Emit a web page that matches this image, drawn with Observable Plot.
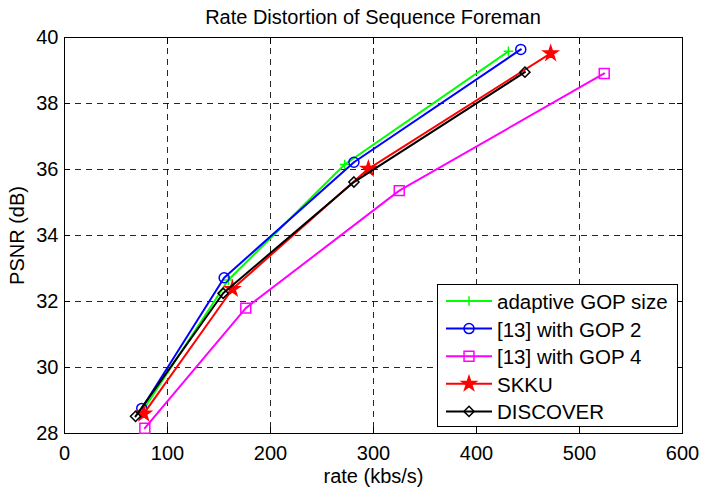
<!DOCTYPE html>
<html><head><meta charset="utf-8">
<script src="https://cdn.jsdelivr.net/npm/d3@7"></script>
<script src="https://cdn.jsdelivr.net/npm/@observablehq/plot@0.6"></script>
<style>
body{margin:0;background:#fff;font-family:"Liberation Sans",Arial,Helvetica,sans-serif;}
#wrap{position:relative;width:703px;height:487px;background:#fff;}
#title{height:30px;line-height:34px;font-size:20px;text-align:center;padding-left:64px;padding-right:21px;box-sizing:border-box;width:703px;color:#000;white-space:nowrap;}
#legend{position:absolute;left:437px;top:284px;}
</style></head><body>
<div id="wrap"><div id="title">Rate Distortion of Sequence Foreman</div><div id="chart"></div><svg id="legend" width="241" height="143"></svg></div>
<script>
const seriesNames = ["adaptive GOP size", "[13] with GOP 2", "[13] with GOP 4", "SKKU", "DISCOVER"];
const rateAdaptive = [76, 159, 272, 431];
const psnrAdaptive = [28.70, 32.65, 36.15, 39.58];
const rateGop2 = [75, 155, 281, 443];
const psnrGop2 = [28.76, 32.72, 36.22, 39.64];
const rateGop4 = [78, 176, 325, 524];
const psnrGop4 = [28.16, 31.80, 35.36, 38.91];
const rateSkku = [77, 163, 295, 472];
const psnrSkku = [28.60, 32.38, 36.02, 39.52];
const rateDiscover = [69, 154, 281, 447];
const psnrDiscover = [28.52, 32.25, 35.62, 38.95];
const xTicks = [0, 100, 200, 300, 400, 500, 600];
const yTicks = [28, 30, 32, 34, 36, 38, 40];

const seriesColors = ["#00ff00", "#0000ff", "#ff00ff", "#ff0000", "#000000"];
const seriesSymbols = ["plus", "circle", "square", "star", "diamond2"];
const seriesR = [3.2, 5, 5.6, 4.5, 4.6];
const seriesFill = ["none", "none", "none", "#ff0000", "none"];

const rates = [rateAdaptive, rateGop2, rateGop4, rateSkku, rateDiscover];
const psnrs = [psnrAdaptive, psnrGop2, psnrGop4, psnrSkku, psnrDiscover];
const tables = seriesNames.map((name, i) => rates[i].map((r, j) => ({series: name, rate: r, psnr: psnrs[i][j]})));

const font = '"Liberation Sans", Arial, Helvetica, sans-serif';
const gridStyle = {stroke: "black", strokeOpacity: 0.85, strokeDasharray: "6,5"};

const seriesMarks = tables.flatMap((t, i) => [
  Plot.line(t, {x: "rate", y: "psnr", stroke: seriesColors[i], strokeWidth: 2}),
  Plot.dot(t, {x: "rate", y: "psnr", symbol: seriesSymbols[i], r: seriesR[i], stroke: seriesColors[i], fill: seriesFill[i], strokeWidth: 1.5})
]);

const chart = Plot.plot({
  width: 703, height: 457,
  marginLeft: 64, marginRight: 21, marginTop: 7, marginBottom: 54,
  style: {fontFamily: font, fontSize: "20px", color: "black", background: "white", overflow: "visible"},
  x: {domain: [0, 600]},
  y: {domain: [28, 40]},
  marks: [
    Plot.gridX(xTicks, gridStyle),
    Plot.gridY(yTicks, gridStyle),
    Plot.axisX(xTicks, {anchor: "bottom", tickSize: -6, tickPadding: 18, fontSize: 20, label: "rate (kbs/s)", labelAnchor: "center", labelArrow: "none", labelOffset: 49}),
    Plot.axisX(xTicks, {anchor: "top", tickSize: -6, tickFormat: () => "", label: null}),
    Plot.axisY(yTicks, {anchor: "left", tickSize: -6, tickPadding: 12, fontSize: 20, label: "PSNR (dB)", labelAnchor: "center", labelArrow: "none", labelOffset: 55}),
    Plot.axisY(yTicks, {anchor: "right", tickSize: -6, tickFormat: () => "", label: null}),
    Plot.frame({stroke: "black"}),
    ...seriesMarks
  ]
});
document.getElementById("chart").appendChild(chart);

// legend
const lg = d3.select("#legend");
lg.append("rect").attr("x", 0.5).attr("y", 0.5).attr("width", 240).attr("height", 142).attr("fill", "white").attr("stroke", "black");
const symMap = {plus: d3.symbolPlus, circle: d3.symbolCircle, square: d3.symbolSquare, star: d3.symbolStar, diamond2: d3.symbolDiamond2};
seriesNames.forEach((name, i) => {
  const y = 17 + i * 27.6;
  const g = lg.append("g").attr("transform", `translate(0,${y})`);
  g.append("line").attr("x1", 9).attr("x2", 55).attr("y1", 0).attr("y2", 0).attr("stroke", seriesColors[i]).attr("stroke-width", 2);
  g.append("path").attr("transform", "translate(32,0)")
    .attr("d", d3.symbol(symMap[seriesSymbols[i]], seriesR[i] * seriesR[i] * Math.PI)())
    .attr("stroke", seriesColors[i]).attr("fill", seriesFill[i]).attr("stroke-width", 1.5);
  g.append("text").attr("x", 60).attr("y", 8).attr("font-family", font).attr("font-size", 20.5).attr("fill", "black").text(name);
});
</script>
</body></html>
